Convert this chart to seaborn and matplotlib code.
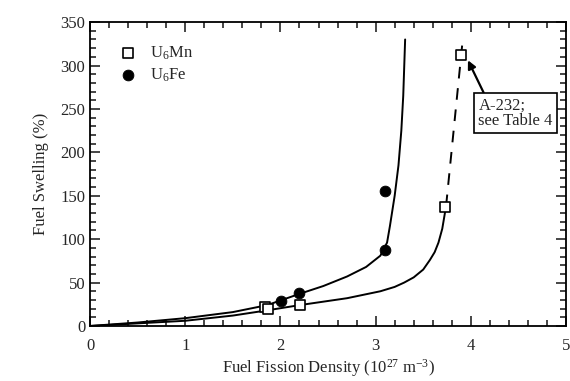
import numpy as np
import pandas as pd
import matplotlib
matplotlib.use('Agg')
import matplotlib.pyplot as plt
from matplotlib.ticker import MultipleLocator
import seaborn as sns

# Measured points
mn_x = [1.84, 1.87, 2.21, 3.73, 3.90]
mn_y = [22, 20, 24, 137, 312]
fe_x = [2.01, 2.20, 3.10, 3.10]
fe_y = [29, 38, 87, 155]

# Fitted curves
fe_fit_x = [0, 0.5, 1.0, 1.5, 1.86, 2.2, 2.45, 2.7, 2.9, 3.05, 3.12, 3.15, 3.2, 3.24, 3.27, 3.29, 3.31]
fe_fit_y = [0, 4, 9, 16, 24, 37, 46, 57, 68, 81, 96, 115, 150, 185, 225, 265, 330]
mn_fit_x = [0, 0.5, 1.0, 1.5, 1.86, 2.2, 2.7, 3.05, 3.2, 3.3, 3.4, 3.5, 3.57, 3.62, 3.66, 3.70, 3.72, 3.74]
mn_fit_y = [0, 3, 6, 12, 18, 24, 32, 40, 45, 50, 56, 65, 76, 85, 96, 112, 125, 138]
mn_dash_x = [3.74, 3.915]
mn_dash_y = [138, 330]

sns.set_style('ticks')
plt.rcParams['font.family'] = ['Liberation Serif', 'DejaVu Serif']
plt.rcParams['mathtext.fontset'] = 'custom'
plt.rcParams['mathtext.rm'] = 'Liberation Serif'
plt.rcParams['mathtext.it'] = 'Liberation Serif:italic'

fig = plt.figure(figsize=(5.7, 3.81), dpi=100)
ax = fig.add_axes([0.158, 0.1444, 0.835, 0.7976])

sns.lineplot(x=fe_fit_x, y=fe_fit_y, ax=ax, color='black', lw=1.4, sort=False)
sns.lineplot(x=mn_fit_x, y=mn_fit_y, ax=ax, color='black', lw=1.4, sort=False)
sns.lineplot(x=mn_dash_x, y=mn_dash_y, ax=ax, color='black', lw=1.4, sort=False,
             linestyle=(0, (6, 5)))

sns.scatterplot(x=mn_x, y=mn_y, ax=ax, marker='s', s=55, facecolor='white',
                edgecolor='black', linewidth=1.2, label=r'U$_{\mathregular{6}}$Mn', zorder=5)
sns.scatterplot(x=fe_x, y=fe_y, ax=ax, marker='o', s=60, color='black',
                edgecolor='black', label=r'U$_{\mathregular{6}}$Fe', zorder=5)

ax.set_xlim(0, 5)
ax.set_ylim(0, 350)
ax.xaxis.set_major_locator(MultipleLocator(1))
ax.xaxis.set_minor_locator(MultipleLocator(0.2))
ax.yaxis.set_major_locator(MultipleLocator(50))
ax.yaxis.set_minor_locator(MultipleLocator(10))
ax.tick_params(which='both', direction='in', top=True, right=True, labelsize=12, width=1.2)
ax.tick_params(which='major', length=7)
ax.tick_params(which='minor', length=4)
ax.tick_params(axis='x', pad=9)
for s in ax.spines.values():
    s.set_linewidth(1.3)
    s.set_color('black')

ax.set_xlabel(r'Fuel Fission Density (10$^{27}$ m$^{-3}$)', fontsize=12, labelpad=2)
ax.set_ylabel('Fuel Swelling (%)', fontsize=12, labelpad=8)

ax.legend(loc='upper left', bbox_to_anchor=(0.02, 0.965), frameon=False, fontsize=12,
          handletextpad=0.3, labelspacing=0.3, borderpad=0.2)

ax.annotate('A-232;\nsee Table 4', xy=(3.97, 306), xytext=(4.08, 245),
            fontsize=12, va='center', ha='left', linespacing=1.0,
            bbox=dict(boxstyle='square,pad=0.25', fc='white', ec='black', lw=1.2),
            arrowprops=dict(arrowstyle='-|>', color='black', lw=1.6,
                            shrinkA=0, shrinkB=0, mutation_scale=12,
                            relpos=(0.1, 1.0)))

fig.savefig('out.png', dpi=100)
